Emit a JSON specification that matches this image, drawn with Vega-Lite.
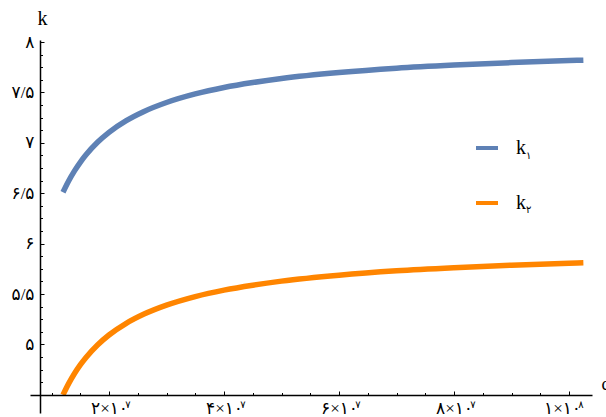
{
  "$schema": "https://vega.github.io/schema/vega-lite/v6.json",
  "width": 562,
  "height": 373,
  "autosize": "none",
  "padding": {"left": 30, "top": 40, "right": 14, "bottom": 4},
  "background": "white",
  "config": {"view": {"stroke": null}},
  "datasets": {
    "curves": [
      {"x": 12000000, "k": 6.510, "series": "k1", "sub": "۱"},
      {"x": 13000000, "k": 6.624, "series": "k1", "sub": "۱"},
      {"x": 14000000, "k": 6.722, "series": "k1", "sub": "۱"},
      {"x": 15000000, "k": 6.807, "series": "k1", "sub": "۱"},
      {"x": 16000000, "k": 6.881, "series": "k1", "sub": "۱"},
      {"x": 18000000, "k": 7.005, "series": "k1", "sub": "۱"},
      {"x": 20000000, "k": 7.104, "series": "k1", "sub": "۱"},
      {"x": 23000000, "k": 7.220, "series": "k1", "sub": "۱"},
      {"x": 26000000, "k": 7.309, "series": "k1", "sub": "۱"},
      {"x": 30000000, "k": 7.400, "series": "k1", "sub": "۱"},
      {"x": 35000000, "k": 7.485, "series": "k1", "sub": "۱"},
      {"x": 40000000, "k": 7.549, "series": "k1", "sub": "۱"},
      {"x": 45000000, "k": 7.598, "series": "k1", "sub": "۱"},
      {"x": 50000000, "k": 7.638, "series": "k1", "sub": "۱"},
      {"x": 60000000, "k": 7.697, "series": "k1", "sub": "۱"},
      {"x": 70000000, "k": 7.740, "series": "k1", "sub": "۱"},
      {"x": 80000000, "k": 7.771, "series": "k1", "sub": "۱"},
      {"x": 90000000, "k": 7.796, "series": "k1", "sub": "۱"},
      {"x": 100000000, "k": 7.816, "series": "k1", "sub": "۱"},
      {"x": 102500000, "k": 7.820, "series": "k1", "sub": "۱"},
      {"x": 12000000, "k": 4.500, "series": "k2", "sub": "۲"},
      {"x": 13000000, "k": 4.614, "series": "k2", "sub": "۲"},
      {"x": 14000000, "k": 4.712, "series": "k2", "sub": "۲"},
      {"x": 15000000, "k": 4.797, "series": "k2", "sub": "۲"},
      {"x": 16000000, "k": 4.871, "series": "k2", "sub": "۲"},
      {"x": 18000000, "k": 4.995, "series": "k2", "sub": "۲"},
      {"x": 20000000, "k": 5.094, "series": "k2", "sub": "۲"},
      {"x": 23000000, "k": 5.210, "series": "k2", "sub": "۲"},
      {"x": 26000000, "k": 5.299, "series": "k2", "sub": "۲"},
      {"x": 30000000, "k": 5.390, "series": "k2", "sub": "۲"},
      {"x": 35000000, "k": 5.475, "series": "k2", "sub": "۲"},
      {"x": 40000000, "k": 5.539, "series": "k2", "sub": "۲"},
      {"x": 45000000, "k": 5.588, "series": "k2", "sub": "۲"},
      {"x": 50000000, "k": 5.628, "series": "k2", "sub": "۲"},
      {"x": 60000000, "k": 5.687, "series": "k2", "sub": "۲"},
      {"x": 70000000, "k": 5.730, "series": "k2", "sub": "۲"},
      {"x": 80000000, "k": 5.761, "series": "k2", "sub": "۲"},
      {"x": 90000000, "k": 5.786, "series": "k2", "sub": "۲"},
      {"x": 100000000, "k": 5.806, "series": "k2", "sub": "۲"},
      {"x": 102500000, "k": 5.810, "series": "k2", "sub": "۲"}
    ],
    "sups": [
      {"x": 20000000, "sup": "۷"},
      {"x": 40000000, "sup": "۷"},
      {"x": 60000000, "sup": "۷"},
      {"x": 80000000, "sup": "۷"},
      {"x": 100000000, "sup": "۸"}
    ]
  },
  "resolve": {"axis": {"x": "independent", "y": "independent"}},
  "layer": [
    {
      "data": {"name": "curves"},
      "mark": {"type": "line", "strokeWidth": 5.5, "interpolate": "monotone", "strokeCap": "butt"},
      "encoding": {
        "x": {
          "field": "x", "type": "quantitative",
          "scale": {"domain": [6260000, 104000000], "nice": false, "zero": false},
          "axis": {
            "orient": "bottom", "offset": -18,
            "values": [20000000, 40000000, 60000000, 80000000, 100000000],
            "labelExpr": "abs(datum.value-20000000)<1000?'۲×۱۰':abs(datum.value-40000000)<1000?'۴×۱۰':abs(datum.value-60000000)<1000?'۶×۱۰':abs(datum.value-80000000)<1000?'۸×۱۰':'۱×۱۰'",
            "labelOffset": {"condition": {"test": "datum.value > 90000000", "value": -7}, "value": 0},
            "grid": false,
            "domainColor": "black", "domainWidth": 1.5,
            "tickColor": "black", "tickWidth": 1, "tickSize": -4,
            "labelFont": "Liberation Serif, DejaVu Sans", "labelFontSize": 17, "labelColor": "black",
            "labelPadding": 9, "labelDx": -2, "labelOverlap": false, "labelFlush": false,
            "title": "c", "titleFont": "Liberation Serif", "titleFontSize": 18, "titleFontWeight": "normal",
            "titleColor": "black", "titleX": 571, "titleY": -6, "titleAlign": "left", "titleBaseline": "alphabetic", "titleAnchor": null,
            "zindex": 1
          }
        },
        "y": {
          "field": "k", "type": "quantitative",
          "scale": {"domain": [4.32, 8.02], "nice": false, "zero": false},
          "axis": {
            "orient": "left", "offset": -10,
            "values": [5, 5.5, 6, 6.5, 7, 7.5, 8],
            "labelExpr": "abs(datum.value-8)<0.01?'۸':abs(datum.value-7.5)<0.01?'۷/۵':abs(datum.value-7)<0.01?'۷':abs(datum.value-6.5)<0.01?'۶/۵':abs(datum.value-6)<0.01?'۶':abs(datum.value-5.5)<0.01?'۵/۵':'۵'",
            "grid": false,
            "domainColor": "black", "domainWidth": 1.5,
            "tickColor": "black", "tickWidth": 1, "tickSize": -4,
            "labelFont": "Liberation Serif, DejaVu Sans", "labelFontSize": 17, "labelColor": "black",
            "labelPadding": 10, "labelOverlap": false, "labelFlush": false,
            "title": "k", "titleFont": "Liberation Serif", "titleFontSize": 20, "titleFontWeight": "normal",
            "titleColor": "black", "titleAngle": 0, "titleX": 2, "titleY": -16, "titleAlign": "center", "titleBaseline": "alphabetic", "titleAnchor": null,
            "zindex": 1
          }
        },
        "color": {
          "field": "series", "type": "nominal",
          "scale": {"domain": ["k1", "k2"], "range": ["#5E81B5", "#FF8500"]},
          "legend": {
            "orient": "none", "legendX": 444, "legendY": 95,
            "title": null, "symbolType": "stroke", "symbolSize": 484, "symbolStrokeWidth": 4,
            "labelExpr": "'k'", "labelFont": "Liberation Serif", "labelFontSize": 20, "labelColor": "black",
            "labelOffset": 16, "rowPadding": 32, "padding": 0
          }
        }
      }
    },
    {
      "data": {"name": "curves"},
      "mark": {"type": "point", "opacity": 0},
      "encoding": {
        "x": {
          "field": "x", "type": "quantitative",
          "axis": {
            "orient": "bottom", "offset": -18,
            "values": [10000000, 15000000, 25000000, 30000000, 35000000, 45000000, 50000000, 55000000, 65000000, 70000000, 75000000, 85000000, 90000000, 95000000],
            "labels": false, "domain": false, "grid": false, "title": null,
            "tickColor": "black", "tickWidth": 1, "tickSize": -2.5
          }
        },
        "y": {
          "field": "k", "type": "quantitative",
          "axis": {
            "orient": "left", "offset": -10,
            "values": [4.625, 4.75, 4.875, 5.125, 5.25, 5.375, 5.625, 5.75, 5.875, 6.125, 6.25, 6.375, 6.625, 6.75, 6.875, 7.125, 7.25, 7.375, 7.625, 7.75, 7.875],
            "labels": false, "domain": false, "grid": false, "title": null,
            "tickColor": "black", "tickWidth": 1, "tickSize": -2.5
          }
        },
        "shape": {
          "field": "sub", "type": "nominal",
          "scale": {"domain": ["۱", "۲"], "range": ["circle", "circle"]},
          "legend": {
            "orient": "none", "legendX": 486, "legendY": 111,
            "title": null, "symbolSize": 1, "symbolOpacity": 0, "symbolStrokeWidth": 0,
            "labelFont": "Liberation Serif, DejaVu Sans", "labelFontSize": 10, "labelColor": "black",
            "labelOffset": 0, "rowPadding": 44, "padding": 0
          }
        }
      }
    },
    {
      "data": {"name": "sups"},
      "transform": [{"filter": "datum.x < 90000000"}],
      "mark": {"type": "text", "font": "Liberation Serif, DejaVu Sans", "fontSize": 10, "color": "black", "dx": 19, "dy": 10, "align": "center", "baseline": "middle"},
      "encoding": {
        "x": {"field": "x", "type": "quantitative", "axis": null},
        "y": {"datum": 4.5, "axis": null},
        "text": {"field": "sup"}
      }
    },
    {
      "data": {"name": "sups"},
      "transform": [{"filter": "datum.x > 90000000"}],
      "mark": {"type": "text", "font": "Liberation Serif, DejaVu Sans", "fontSize": 10, "color": "black", "dx": 12, "dy": 10, "align": "center", "baseline": "middle"},
      "encoding": {
        "x": {"field": "x", "type": "quantitative", "axis": null},
        "y": {"datum": 4.5, "axis": null},
        "text": {"field": "sup"}
      }
    }
  ]
}
